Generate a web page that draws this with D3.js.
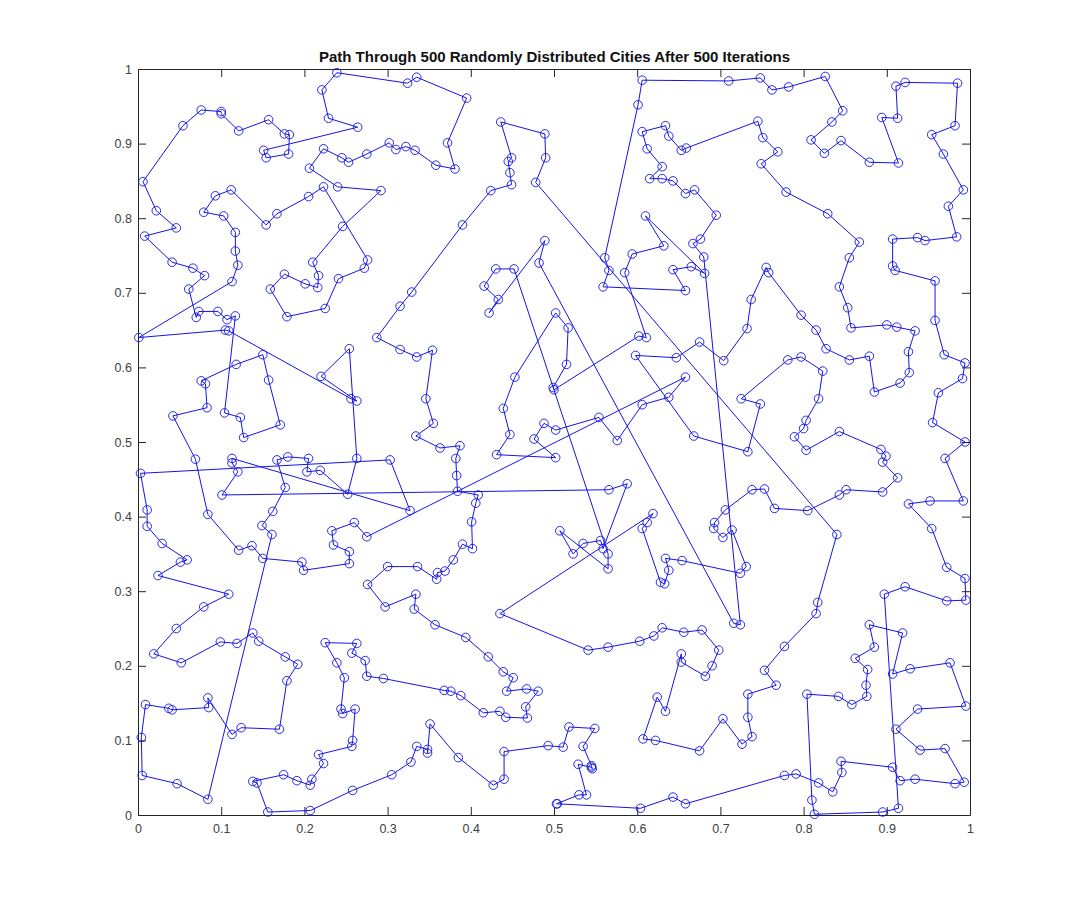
<!DOCTYPE html>
<meta charset="utf-8">
<style>
body { margin: 0; background: #fff; }
svg { display: block; }
.tour { fill: none; stroke: #1414e6; stroke-width: 1px; }
.city { fill: none; stroke: #1414e6; stroke-width: 0.9px; }
.axis path, .axis line { stroke: #262626; stroke-width: 1px; }
.axis text { font: 12.5px "Liberation Sans", sans-serif; fill: #404040; }
.title { font: bold 15px "Liberation Sans", sans-serif; fill: #111; text-anchor: middle; }
</style>
<body>
<script src="https://d3js.org/d3.v7.min.js"></script>
<script>
  var chartTitle = "Path Through 500 Randomly Distributed Cities After 500 Iterations";
  var tickValues = [0, 0.1, 0.2, 0.3, 0.4, 0.5, 0.6, 0.7, 0.8, 0.9, 1];

  // tour order. last city joins back to the first
  var cityX = [.001,.113,.120,.117,.117,.103,.079,.093,.112,.154,.167,.205,.223,.276,.272,.241,.225,.179,.159,.176,.201,.216,.217,.210,.246,.292,.240,.206,.223,.245,.253,.275,.302,.310,.322,.333,.358,.381,.372,.395,.335,.324,.239,.221,.229,.264,.151,.154,.181,.182,.176,.157,.121,.100,.100,.076,.054,.006,.022,.046,.008,.041,.066,.080,.061,.070,.073,.096,.107,.117,
    .104,.123,.127,.171,.157,.150,.118,.076,.081,.083,.042,.069,.084,.121,.137,.150,.197,.199,.254,.254,.235,.233,.260,.275,.658,.638,.606,.576,.554,.502,.488,.476,.502,.431,.447,.439,.453,.502,.517,.515,.499,.500,.602,.611,.585,.594,.632,.610,.681,.665,.643,.658,.559,.566,.561,.601,.606,
    .710,.748,.762,.782,.826,.847,.834,.809,.825,.845,.879,.914,.894,.913,.911,.922,.985,.982,.954,.968,.992,.974,.984,.946,.937,.907,.907,.910,.958,.958,.969,.994,.991,.962,.955,.994,.970,.992,.952,.926,.954,.972,.994,.995,.972,.922,.897,.914,.895,.813,.810,.804,.842,.858,.876,.875,.877,.862,.885,.879,.919,.907,.928,.976,.995,.937,.911,.940,.970,.993,.982,.934,.916,.907,.845,.846,.835,.818,.791,.777,
    .658,.643,.604,.504,.503,.530,.539,.529,.545,.546,.545,.535,.549,.518,.511,.493,.440,.440,.427,.385,.351,.348,.348,.335,.328,.305,.258,.207,.156,.143,.138,.175,.191,.207,.209,.223,.217,.257,.258,.261,.246,.244,.248,.239,.225,.263,.257,.273,.275,.295,.368,.376,.388,.415,.435,.442,.468,.466,.481,.467,.443,.451,.439,.421,.394,.357,.332,.334,.297,.276,.300,.336,.359,.360,.369,.379,.390,.402,.401,.406,.409,.384,.383,.382,.387,.363,.334,.355,.346,.354,.335,.315,.287,.315,.329,.390,.424,.449,.447,.445,.449,.436,.489,.490,.478,.840,
    .817,.815,.777,.753,.767,.733,.733,.738,.726,.703,.675,.622,.607,.624,.634,.653,.653,.682,.690,.698,.678,.656,.630,.620,.603,.565,.541,.435,.619,.612,.606,.628,.633,.638,.634,.654,.724,.731,.714,.703,.692,.693,.706,.738,.753,.765,.805,.843,.851,.895,.913,.895,.899,.893,.843,.803,.789,.800,.803,.818,.823,.797,.781,.725,.748,.733,.668,.598,.647,.675,.704,.732,.737,.755,.758,.797,.815,.827,.855,.879,.885,.916,.927,.926,.934,.912,.900,.857,.853,.843,.855,.867,.829,.779,.749,.769,.751,.745,.659,.653,.638,.634,.606,.612,.630,.615,.630,.643,.658,.669,.695,.676,.667,.680,
    .724,.716,.482,.489,.422,.433,.416,.430,.452,.565,.565,.507,.523,.535,.556,.559,.588,.566,.101,.120,.113,.113,.327,.303,.003,.011,.011,.029,.059,.051,.024,.109,.079,.046,.019,.052,.099,.119,.138,.145,.177,.192,.179,.170,.124,.113,.084,.085,.041,.037,.009,.004,.005,.047,.084,.161,.149,.162,.177,.167,.180,.205,.203,.219,.252,.263,.254,.220,.263,.256,.109,.105];
  var cityY = [.640,.715,.737,.756,.781,.803,.808,.830,.838,.791,.806,.829,.842,.744,.733,.719,.679,.668,.705,.725,.712,.707,.723,.741,.789,.837,.842,.867,.893,.881,.875,.886,.901,.892,.896,.891,.871,.866,.901,.961,.989,.981,.995,.972,.934,.922,.891,.881,.886,.912,.913,.932,.917,.940,.943,.945,.924,.849,.810,.787,.776,.741,.733,.723,.705,.667,.675,.675,.664,.669,
    .539,.533,.506,.523,.583,.617,.604,.582,.578,.546,.535,.477,.403,.355,.361,.344,.339,.328,.337,.353,.362,.381,.392,.373,.587,.560,.550,.502,.533,.516,.525,.504,.479,.483,.510,.545,.587,.673,.653,.604,.573,.570,.642,.640,.727,.752,.763,.803,.726,.735,.731,.703,.708,.730,.747,.952,.985,
    .984,.988,.972,.976,.990,.944,.929,.905,.887,.904,.875,.874,.935,.934,.977,.982,.981,.924,.912,.886,.838,.816,.775,.770,.774,.772,.736,.730,.716,.663,.617,.606,.585,.566,.526,.500,.478,.421,.421,.417,.384,.332,.317,.288,.287,.306,.296,.009,.004,.001,.020,.162,.159,.148,.159,.174,.195,.210,.225,.255,.244,.189,.196,.204,.146,.142,.115,.087,.089,.044,.042,.048,.046,.064,.072,.057,.031,.043,.055,.053,
    .015,.024,.009,.015,.015,.027,.027,.068,.064,.062,.066,.092,.116,.118,.091,.093,.085,.048,.040,.077,.122,.083,.088,.092,.071,.054,.033,.006,.004,.043,.045,.054,.046,.040,.048,.069,.081,.092,.100,.142,.136,.142,.184,.204,.231,.230,.217,.207,.186,.183,.167,.166,.160,.137,.139,.131,.130,.145,.166,.169,.166,.184,.192,.212,.238,.255,.276,.296,.279,.309,.333,.333,.316,.325,.327,.342,.363,.357,.393,.418,.429,.434,.455,.478,.495,.492,.508,.525,.558,.623,.614,.624,.640,.682,.701,.791,.837,.845,.861,.876,.881,.929,.913,.881,.848,.376,
    .285,.270,.226,.194,.174,.162,.131,.105,.095,.129,.086,.100,.102,.158,.139,.216,.205,.186,.200,.221,.248,.245,.251,.240,.233,.225,.221,.270,.404,.392,.384,.312,.310,.328,.344,.341,.324,.333,.382,.372,.384,.392,.409,.436,.437,.411,.408,.429,.436,.433,.452,.473,.481,.490,.514,.489,.507,.518,.529,.558,.595,.614,.610,.558,.551,.487,.508,.616,.613,.634,.609,.652,.691,.734,.727,.670,.650,.625,.610,.615,.567,.579,.593,.621,.649,.654,.657,.653,.680,.708,.747,.768,.806,.835,.873,.889,.908,.930,.894,.891,.910,.924,.916,.893,.869,.853,.853,.850,.833,.838,.804,.772,.766,.748,
    .255,.257,.740,.770,.673,.691,.709,.732,.732,.350,.330,.381,.350,.364,.368,.357,.444,.436,.429,.460,.472,.478,.408,.476,.458,.409,.387,.364,.342,.339,.321,.296,.279,.250,.216,.204,.232,.230,.244,.233,.212,.202,.180,.115,.117,.108,.157,.144,.141,.143,.148,.104,.053,.042,.021,.376,.388,.407,.439,.476,.480,.478,.460,.462,.430,.478,.625,.588,.555,.558,.649,.650];

  var width = 1072, height = 916;
  var margin = {top: 69, right: 102, bottom: 101, left: 138};

  var x = d3.scaleLinear().domain([0, 1]).range([margin.left, width - margin.right]);
  var y = d3.scaleLinear().domain([0, 1]).range([height - margin.bottom, margin.top]);

  var svg = d3.select("body").append("svg")
      .attr("width", width)
      .attr("height", height);

  svg.append("text")
      .attr("class", "title")
      .attr("x", (x(0) + x(1)) / 2 + 0.5)
      .attr("y", 62)
      .text(chartTitle);

  var fmt = function(d) { return String(d); };

  // box with inward ticks on all four sides, labels only bottom and left
  svg.append("g").attr("class", "axis")
      .attr("transform", "translate(0," + y(0) + ")")
      .call(d3.axisBottom(x).tickValues(tickValues).tickFormat(fmt).tickSizeInner(-8).tickSizeOuter(0).tickPadding(9));
  svg.append("g").attr("class", "axis")
      .attr("transform", "translate(" + x(0) + ",0)")
      .call(d3.axisLeft(y).tickValues(tickValues).tickFormat(fmt).tickSizeInner(-8).tickSizeOuter(0).tickPadding(6));
  svg.append("g").attr("class", "axis")
      .attr("transform", "translate(0," + y(1) + ")")
      .call(d3.axisTop(x).tickValues(tickValues).tickFormat("").tickSizeInner(-8).tickSizeOuter(0));
  svg.append("g").attr("class", "axis")
      .attr("transform", "translate(" + x(1) + ",0)")
      .call(d3.axisRight(y).tickValues(tickValues).tickFormat("").tickSizeInner(-8).tickSizeOuter(0));

  var cities = d3.range(cityX.length);

  var line = d3.line()
      .x(function(i) { return x(cityX[i]); })
      .y(function(i) { return y(cityY[i]); })
      .curve(d3.curveLinearClosed);

  svg.append("path")
      .datum(cities)
      .attr("class", "tour")
      .attr("d", line);

  svg.selectAll(".city")
      .data(cities)
    .enter().append("circle")
      .attr("class", "city")
      .attr("cx", function(i) { return x(cityX[i]); })
      .attr("cy", function(i) { return y(cityY[i]); })
      .attr("r", 4.3);
</script>
</body>
